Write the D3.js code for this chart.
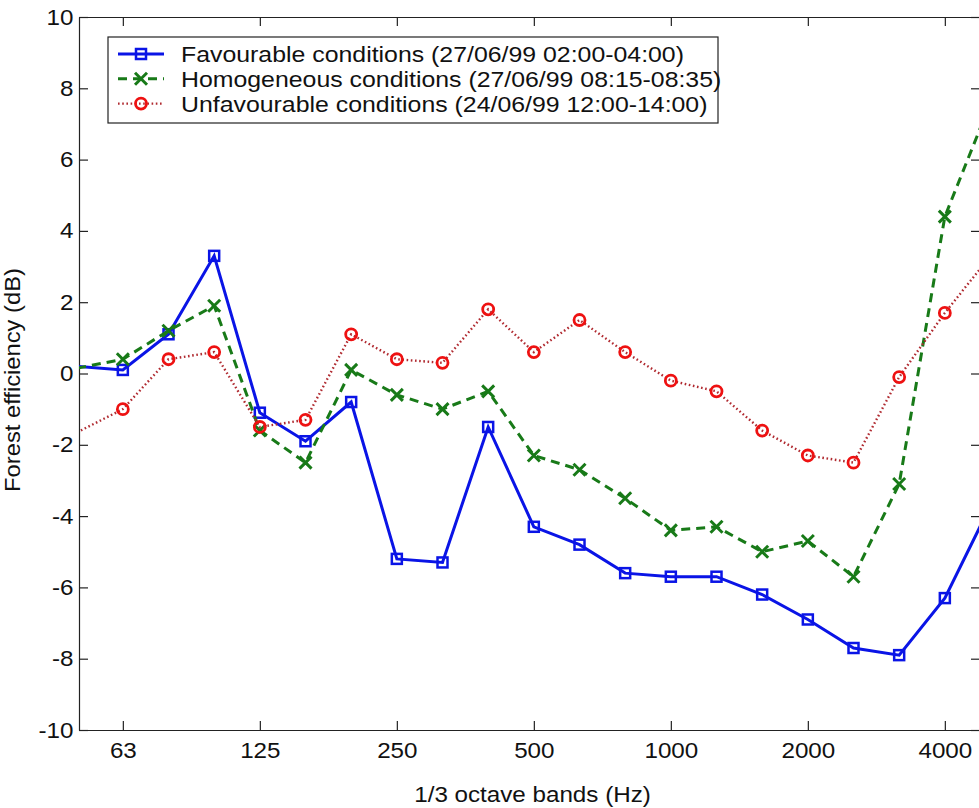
<!DOCTYPE html>
<meta charset="utf-8">
<script src="https://cdn.jsdelivr.net/npm/d3@7"></script>
<style>
  body { margin: 0; background: #fff; }
  text { font-family: "Liberation Sans", Arial, sans-serif; fill: #111; }
</style>
<body>
<script>

// 1/3 octave band centres, one point per band
var bands = [50, 63, 80, 100, 125, 160, 200, 250, 315, 400, 500, 630, 800,
             1000, 1250, 1600, 2000, 2500, 3150, 4000, 5000];

// values (dB)
var favourable = [0.2, 0.1, 1.1, 3.3, -1.1, -1.9, -0.8, -5.2, -5.3, -1.5, -4.3,
                  -4.8, -5.6, -5.7, -5.7, -6.2, -6.9, -7.7, -7.9, -6.3, -3.7];
var homogeneous = [0.15, 0.4, 1.2, 1.9, -1.6, -2.5, 0.1, -0.6, -1.0, -0.5, -2.3,
                   -2.7, -3.5, -4.4, -4.3, -5.0, -4.7, -5.7, -3.1, 4.4, 7.6];
var unfavourable = [-1.65, -1.0, 0.4, 0.6, -1.5, -1.3, 1.1, 0.4, 0.3, 1.8, 0.6,
                    1.5, 0.6, -0.2, -0.5, -1.6, -2.3, -2.5, -0.1, 1.7, 3.3];

var seriesNames = ["Favourable conditions (27/06/99 02:00-04:00)",
                   "Homogeneous conditions (27/06/99 08:15-08:35)",
                   "Unfavourable conditions (24/06/99 12:00-14:00)"];

var xTickBands = [63, 125, 250, 500, 1000, 2000, 4000];
var yTicks = [-10, -8, -6, -4, -2, 0, 2, 4, 6, 8, 10];

var width = 979, height = 808;
// axes box (note: "top" is reserved on window, so prefixed names)
var axL = 79, axR = 980, axT = 17, axB = 730;
var fontSize = 22, stretch = "scale(1.1,1)"; // the original glyphs are a bit wide

// line styles per series
var styles = [
    {color: "#0a14e6", mcolor: "#0a14e6", width: 3, dash: null, marker: "square"},
    {color: "#187a18", mcolor: "#187a18", width: 3, dash: "9,6", marker: "cross"},
    {color: "#b02a30", mcolor: "#ee1111", width: 2.4, dash: "1.6,2.6", marker: "circle"}
];

var svg = d3.select("body").append("svg")
    .attr("width", width)
    .attr("height", height);

var x = d3.scaleLinear().domain([0.04, 19.77]).range([axL, axR]);
var y = d3.scaleLinear().domain([-10, 10]).range([axB, axT]);

var tickIdx = xTickBands.map(function(b){ return bands.indexOf(b); });

svg.append("g")
    .attr("transform", "translate(0," + axB + ")")
    .call(d3.axisBottom(x).tickValues(tickIdx)
        .tickFormat(function(d){ return bands[d]; })
        .tickSizeInner(-9).tickSizeOuter(0).tickPadding(12))
    .call(styleAxis);

svg.append("g")
    .attr("transform", "translate(0," + axT + ")")
    .call(d3.axisTop(x).tickValues(tickIdx)
        .tickFormat("").tickSizeInner(-9).tickSizeOuter(0))
    .call(styleAxis);

svg.append("g")
    .attr("transform", "translate(" + axL + ",0)")
    .call(d3.axisLeft(y).tickValues(yTicks)
        .tickFormat(function(d){ return String(d); }) // plain hyphen, not U+2212
        .tickSizeInner(-9).tickSizeOuter(0).tickPadding(5))
    .call(styleAxis);

svg.append("g")
    .attr("transform", "translate(" + axR + ",0)")
    .call(d3.axisRight(y).tickValues(yTicks)
        .tickFormat("").tickSizeInner(-9).tickSizeOuter(0))
    .call(styleAxis);

function styleAxis(g) {
    g.selectAll("path, line").attr("stroke", "#222").attr("stroke-width", 1.2);
    g.selectAll("text").attr("font-size", fontSize).attr("fill", "#111")
        .attr("font-family", "Liberation Sans, Arial, sans-serif")
        .attr("transform", stretch);
}

// axis labels
svg.append("text")
    .attr("transform", "translate(" + ((axL + axR) / 2 + 3) + ",802) " + stretch)
    .attr("text-anchor", "middle")
    .attr("font-size", fontSize)
    .text("1/3 octave bands (Hz)");

svg.append("text")
    .attr("transform", "translate(20,380) rotate(-90) scale(1.08,1)")
    .attr("text-anchor", "middle")
    .attr("font-size", fontSize)
    .text("Forest efficiency (dB)");

// clip to the axes
svg.append("clipPath").attr("id", "plotclip")
  .append("rect")
    .attr("x", axL).attr("y", axT)
    .attr("width", axR - axL).attr("height", axB - axT);

var plot = svg.append("g").attr("clip-path", "url(#plotclip)");

var allSeries = [favourable, homogeneous, unfavourable];

var line = d3.line()
    .x(function(d, i){ return x(i); })
    .y(function(d){ return y(d); });

function drawMarker(sel, kind, color) {
    if (kind === "square") {
        sel.append("rect")
            .attr("x", -5).attr("y", -5).attr("width", 10).attr("height", 10)
            .attr("fill", "none").attr("stroke", color).attr("stroke-width", 2.5);
    } else if (kind === "cross") {
        sel.append("path")
            .attr("d", "M-6,-6L6,6M-6,6L6,-6")
            .attr("fill", "none").attr("stroke", color).attr("stroke-width", 3);
    } else {
        sel.append("circle")
            .attr("r", 5.5)
            .attr("fill", "none").attr("stroke", color).attr("stroke-width", 2.8);
    }
}

allSeries.forEach(function(vals, k) {
    var st = styles[k];
    plot.append("path")
        .datum(vals)
        .attr("d", line)
        .attr("fill", "none")
        .attr("stroke", st.color)
        .attr("stroke-width", st.width)
        .attr("stroke-dasharray", st.dash)
        .attr("stroke-linejoin", "miter");

    // markers only for points inside the axes (like matlab)
    var pts = vals.map(function(v, i){ return {i: i, v: v}; })
        .filter(function(p){ return x(p.i) >= axL && x(p.i) <= axR; });

    plot.selectAll(".m" + k)
        .data(pts)
        .enter().append("g")
        .attr("class", "m" + k)
        .attr("transform", function(d){ return "translate(" + x(d.i) + "," + y(d.v) + ")"; })
        .each(function(){ drawMarker(d3.select(this), st.marker, st.mcolor); });
});

// legend
var legend = svg.append("g").attr("transform", "translate(108,37)");
legend.append("rect")
    .attr("width", 610).attr("height", 86)
    .attr("fill", "#fff").attr("stroke", "#222").attr("stroke-width", 1.2);

seriesNames.forEach(function(name, k) {
    var st = styles[k];
    var row = legend.append("g").attr("transform", "translate(0," + (17 + k * 24.8) + ")");
    row.append("line")
        .attr("x1", 10).attr("x2", 56)
        .attr("stroke", st.color).attr("stroke-width", st.width)
        .attr("stroke-dasharray", st.dash);
    var mk = row.append("g").attr("transform", "translate(33,0)");
    drawMarker(mk, st.marker, st.mcolor);
    row.append("text")
        .attr("transform", "translate(73,8) scale(1.13,1)")
        .attr("font-size", fontSize)
        .text(name);
});

</script>
</body>
